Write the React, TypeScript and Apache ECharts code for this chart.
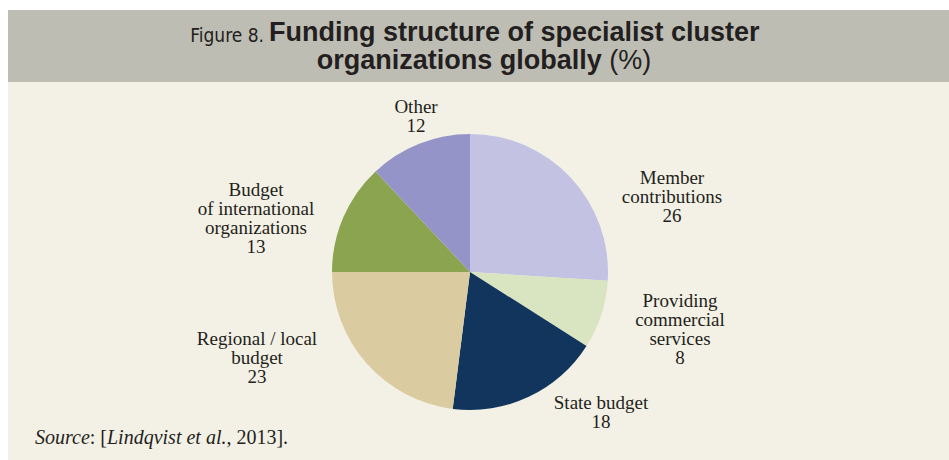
import React, { useEffect, useRef } from "react";
import * as echarts from "echarts";

const categories: string[] = [
  "Member\ncontributions",
  "Providing\ncommercial\nservices",
  "State budget",
  "Regional / local\nbudget",
  "Budget\nof international\norganizations",
  "Other",
];
const values: number[] = [26, 8, 18, 23, 13, 12];
const colors: string[] = ["#c3c2e2", "#d9e4c0", "#12355e", "#dbcba1", "#8aa44f", "#9594c8"];

// label anchor points (centre x, top y) — layout, not data
const labelAnchors: [number, number][] = [
  [672, 168],
  [680, 291],
  [601, 393],
  [257, 329],
  [256, 180],
  [416, 97],
];

const TEXT = "#231f20";

export default function App() {
  const ref = useRef<HTMLDivElement>(null);

  useEffect(() => {
    document.body.style.margin = "0";
    const chart = echarts.init(ref.current!, undefined, { renderer: "svg" });
    chart.setOption({
      animation: false,
      backgroundColor: "#ffffff",
      graphic: [
        { type: "rect", z: -10, shape: { x: 8, y: 10, width: 941, height: 450 }, style: { fill: "#f3f1e5" } },
        { type: "rect", z: -9, shape: { x: 8, y: 10, width: 941, height: 72 }, style: { fill: "#bebdb3" } },
        {
          type: "text",
          x: 264,
          y: 35,
          style: {
            text: "{f|Figure 8.}",
            align: "right",
            verticalAlign: "middle",
            rich: {
              f: {
                fill: TEXT,
                fontFamily: "'Liberation Sans Narrow', 'DejaVu Sans Condensed', 'Roboto', sans-serif",
                fontSize: 19,
                lineHeight: 20,
              },
            },
          },
        },
        {
          type: "text",
          x: 269,
          y: 32,
          style: {
            text: "{b|Funding structure of specialist cluster}",
            align: "left",
            verticalAlign: "middle",
            rich: {
              b: { fill: TEXT, fontFamily: "Liberation Sans", fontWeight: "bold", fontSize: 27, lineHeight: 26 },
            },
          },
        },
        {
          type: "text",
          x: 484,
          y: 60,
          style: {
            text: "{b|organizations globally }{n|(%)}",
            align: "center",
            verticalAlign: "middle",
            rich: {
              b: { fill: TEXT, fontFamily: "Liberation Sans", fontWeight: "bold", fontSize: 27, lineHeight: 26 },
              n: { fill: TEXT, fontFamily: "Liberation Sans", fontWeight: "normal", fontSize: 27, lineHeight: 26 },
            },
          },
        },
        {
          type: "text",
          x: 35,
          y: 437,
          style: {
            text: "{i|Source}{r|: [}{i|Lindqvist et al.}{r|, 2013].}",
            align: "left",
            verticalAlign: "middle",
            rich: {
              i: { fill: TEXT, fontFamily: "Liberation Serif", fontStyle: "italic", fontSize: 20, lineHeight: 22 },
              r: { fill: TEXT, fontFamily: "Liberation Serif", fontSize: 20, lineHeight: 22 },
            },
          },
        },
      ],
      series: [
        {
          type: "pie",
          center: [470, 272],
          radius: 138,
          startAngle: 90,
          clockwise: true,
          avoidLabelOverlap: false,
          itemStyle: { borderWidth: 0 },
          emphasis: { disabled: true },
          label: {
            show: true,
            position: "outside",
            formatter: (p: any) => `${p.name}\n${p.value}`,
            color: TEXT,
            fontFamily: "Liberation Serif",
            fontSize: 19,
            lineHeight: 19,
            align: "center",
          },
          labelLine: { show: false },
          labelLayout: (params: any) => {
            const a = labelAnchors[params.dataIndex];
            return { x: a[0], y: a[1], align: "center", verticalAlign: "top", hideOverlap: false };
          },
          data: categories.map((name, i) => ({
            name,
            value: values[i],
            itemStyle: { color: colors[i] },
          })),
        },
      ],
    });
    return () => chart.dispose();
  }, []);

  return <div ref={ref} style={{ width: 949, height: 460 }} />;
}
